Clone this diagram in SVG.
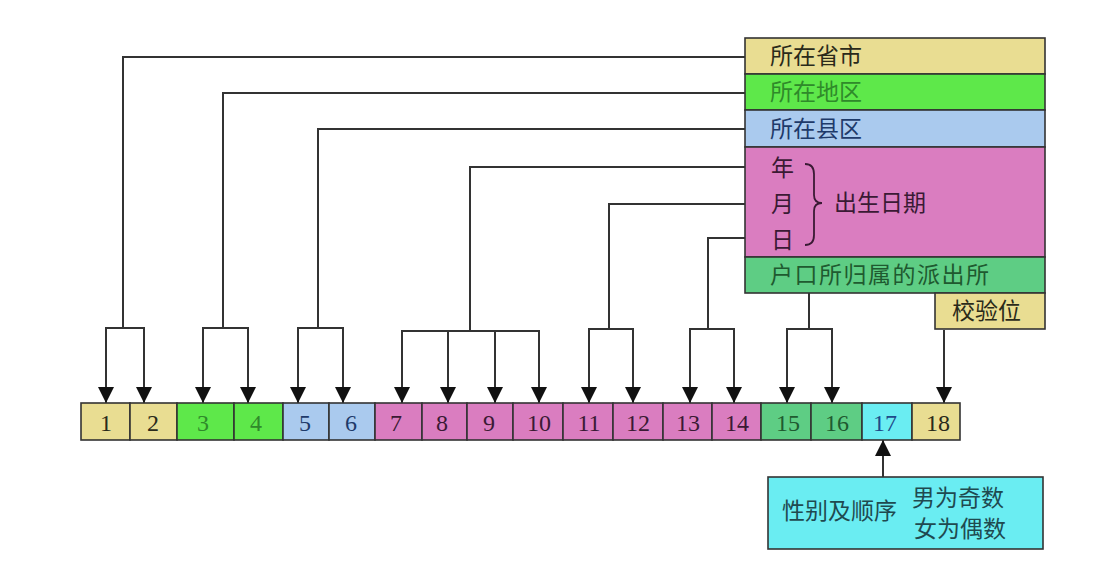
<svg xmlns="http://www.w3.org/2000/svg" width="1094" height="568" viewBox="0 0 1094 568">
<style>
.bx{stroke:#333;stroke-width:1.6}
.y{fill:#E9DD92}.g{fill:#5EE84A}.b{fill:#AACAEE}.p{fill:#DA7DC0}.t{fill:#5ECD84}.c{fill:#6AEDF2}
.cj{font-family:"Noto Sans CJK SC","Noto Sans",sans-serif;font-size:23px}
.n{font-family:"Liberation Serif",serif;font-size:24px;text-anchor:middle}
.ln{fill:none;stroke:#333;stroke-width:2}
</style>
<defs>
<marker id="ad" markerUnits="userSpaceOnUse" markerWidth="16" markerHeight="16" viewBox="0 0 16 16" refX="8" refY="16" orient="0">
<path d="M0 0 L16 0 L8 16 Z" fill="#111"/>
</marker>
<marker id="au" markerUnits="userSpaceOnUse" markerWidth="16" markerHeight="16" viewBox="0 0 16 16" refX="8" refY="0" orient="0">
<path d="M0 16 L16 16 L8 0 Z" fill="#111"/>
</marker>
</defs>
<rect width="1094" height="568" fill="#fff"/>
<g id="connectors">
<path class="ln" d="M745 57 H123 V328"/>
<path class="ln" d="M106 403 V328 H144 V403" marker-start="url(#ad)" marker-end="url(#ad)"/>
<path class="ln" d="M745 93 H223 V328"/>
<path class="ln" d="M203 403 V328 H248 V403" marker-start="url(#ad)" marker-end="url(#ad)"/>
<path class="ln" d="M745 129 H318 V328"/>
<path class="ln" d="M298 403 V328 H343 V403" marker-start="url(#ad)" marker-end="url(#ad)"/>
<path class="ln" d="M745 167 H470 V331"/>
<path class="ln" d="M402 403 V331 H539 V403" marker-start="url(#ad)" marker-end="url(#ad)"/>
<path class="ln" d="M448 331 V403" marker-end="url(#ad)"/>
<path class="ln" d="M495 331 V403" marker-end="url(#ad)"/>
<path class="ln" d="M745 204 H609 V329"/>
<path class="ln" d="M589 403 V329 H633 V403" marker-start="url(#ad)" marker-end="url(#ad)"/>
<path class="ln" d="M745 238 H708 V329"/>
<path class="ln" d="M690 403 V329 H734 V403" marker-start="url(#ad)" marker-end="url(#ad)"/>
<path class="ln" d="M809 293 V329"/>
<path class="ln" d="M787 403 V329 H832 V403" marker-start="url(#ad)" marker-end="url(#ad)"/>
<path class="ln" d="M944 330 V403" marker-end="url(#ad)"/>
<path class="ln" d="M883 477 V440" marker-end="url(#au)"/>
</g>
<g id="panel">
<rect class="bx y" x="745" y="38" width="300" height="36"/>
<text class="cj" x="770" y="64" fill="#2a2a1a">所在省市</text>
<rect class="bx g" x="745" y="74" width="300" height="36"/>
<text class="cj" x="770" y="100" fill="#2f8a2a">所在地区</text>
<rect class="bx b" x="745" y="110" width="300" height="37"/>
<text class="cj" x="770" y="137" fill="#1e3a6a">所在县区</text>
<rect class="bx p" x="745" y="147" width="300" height="110"/>
<text class="cj" x="771" y="176" fill="#3a1a34">年</text>
<text class="cj" x="771" y="212" fill="#3a1a34">月</text>
<text class="cj" x="771" y="248" fill="#3a1a34">日</text>
<path d="M805 164 Q814 164 814 174 V195 Q814 203 822 203 Q814 203 814 211 V235 Q814 245 805 245" fill="none" stroke="#3a1a34" stroke-width="1.8"/>
<text class="cj" x="834" y="211" fill="#3a1a34">出生日期</text>
<rect class="bx t" x="745" y="257" width="300" height="36"/>
<text class="cj" x="770" y="283" fill="#1f5a30" letter-spacing="1.5">户口所归属的派出所</text>
<rect class="bx y" x="935" y="293" width="110" height="36"/>
<text class="cj" x="952" y="319" fill="#2a2a1a">校验位</text>
</g>
<g id="digits">
<rect class="bx y" x="81" y="403" width="49" height="37"/><text class="n" x="106" y="431" fill="#2a2a1a">1</text>
<rect class="bx y" x="130" y="403" width="47" height="37"/><text class="n" x="153" y="431" fill="#2a2a1a">2</text>
<rect class="bx g" x="177" y="403" width="57" height="37"/><text class="n" x="203" y="431" fill="#2f8a2a">3</text>
<rect class="bx g" x="234" y="403" width="49" height="37"/><text class="n" x="256" y="431" fill="#2f8a2a">4</text>
<rect class="bx b" x="283" y="403" width="46" height="37"/><text class="n" x="305" y="431" fill="#1e3a6a">5</text>
<rect class="bx b" x="329" y="403" width="46" height="37"/><text class="n" x="351" y="431" fill="#1e3a6a">6</text>
<rect class="bx p" x="375" y="403" width="47" height="37"/><text class="n" x="396" y="431" fill="#3a1a34">7</text>
<rect class="bx p" x="422" y="403" width="45" height="37"/><text class="n" x="442" y="431" fill="#3a1a34">8</text>
<rect class="bx p" x="467" y="403" width="46" height="37"/><text class="n" x="489" y="431" fill="#3a1a34">9</text>
<rect class="bx p" x="513" y="403" width="50" height="37"/><text class="n" x="539" y="431" fill="#3a1a34">10</text>
<rect class="bx p" x="563" y="403" width="50" height="37"/><text class="n" x="589" y="431" fill="#3a1a34">11</text>
<rect class="bx p" x="613" y="403" width="50" height="37"/><text class="n" x="638" y="431" fill="#3a1a34">12</text>
<rect class="bx p" x="663" y="403" width="49" height="37"/><text class="n" x="688" y="431" fill="#3a1a34">13</text>
<rect class="bx p" x="712" y="403" width="49" height="37"/><text class="n" x="737" y="431" fill="#3a1a34">14</text>
<rect class="bx t" x="761" y="403" width="50" height="37"/><text class="n" x="788" y="431" fill="#1f5a30">15</text>
<rect class="bx t" x="811" y="403" width="51" height="37"/><text class="n" x="837" y="431" fill="#1f5a30">16</text>
<rect class="bx c" x="862" y="403" width="50" height="37"/><text class="n" x="885" y="431" fill="#1e4a8a">17</text>
<rect class="bx y" x="912" y="403" width="48" height="37"/><text class="n" x="938" y="431" fill="#2a2a1a">18</text>
</g>
<g id="gender">
<rect class="bx c" x="768" y="477" width="275" height="72"/>
<text class="cj" x="782" y="519" fill="#1f4a50">性别及顺序</text>
<text class="cj" x="912" y="506" fill="#1f4a50">男为奇数</text>
<text class="cj" x="914" y="537" fill="#1f4a50">女为偶数</text>
</g>
</svg>
